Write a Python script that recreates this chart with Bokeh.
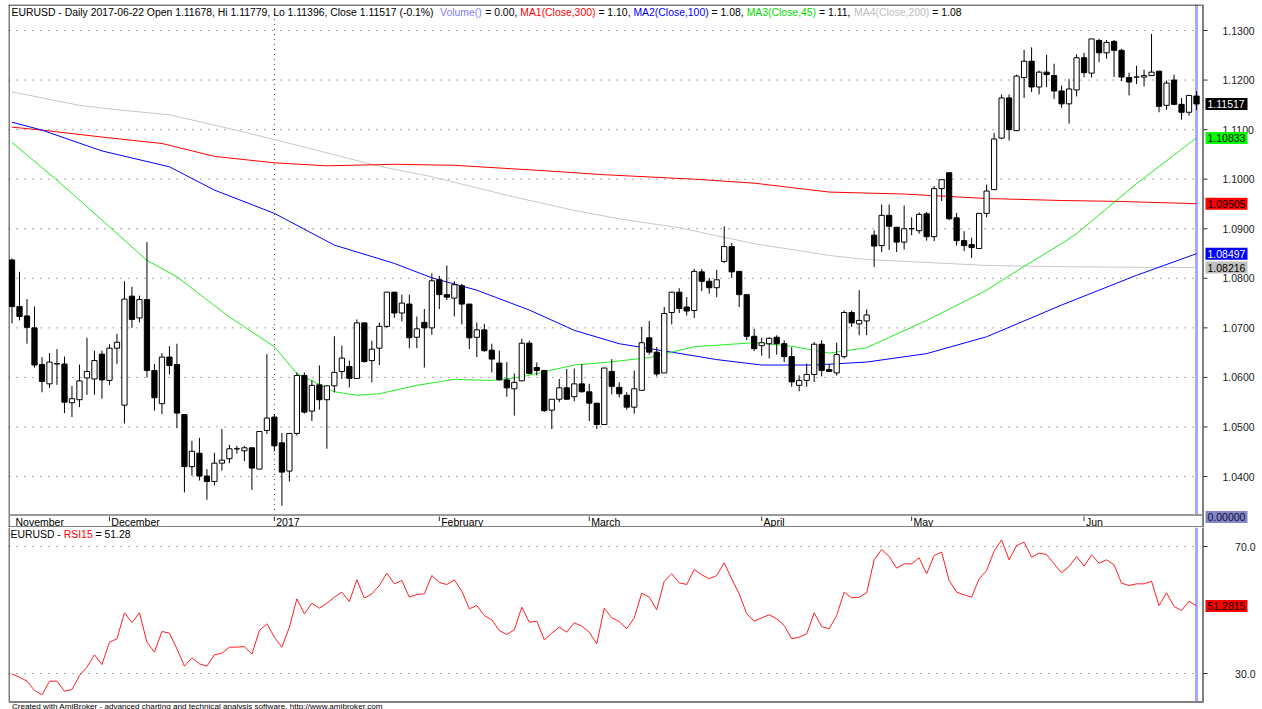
from bokeh.plotting import figure
from bokeh.models import Range1d, ColumnDataSource
from bokeh.layouts import column
from bokeh.core.properties import value
from bokeh.embed import file_html
from bokeh.resources import INLINE

# ---------------- data (EURUSD daily, 2016-11-14 .. 2017-06-22) ----------------
opens = [1.0837, 1.0743, 1.0724, 1.0700, 1.0626, 1.0587, 1.0627, 1.0627, 1.0549, 1.0555,
         1.0599, 1.0597, 1.0647, 1.0594, 1.0659, 1.0544, 1.0764, 1.0720, 1.0757, 1.0614,
         1.0547, 1.0641, 1.0626, 1.0525, 1.0420, 1.0447, 1.0401, 1.0390, 1.0427, 1.0436,
         1.0456, 1.0452, 1.0458, 1.0415, 1.0493, 1.0520, 1.0468, 1.0411, 1.0487, 1.0604,
         1.0532, 1.0585, 1.0555, 1.0583, 1.0612, 1.0622, 1.0598, 1.0710, 1.0634, 1.0659,
         1.0703, 1.0772, 1.0730, 1.0748, 1.0681, 1.0711, 1.0700, 1.0797, 1.0767, 1.0760,
         1.0785, 1.0748, 1.0681, 1.0696, 1.0655, 1.0629, 1.0595, 1.0577, 1.0593, 1.0669,
         1.0620, 1.0614, 1.0534, 1.0556, 1.0579, 1.0561, 1.0587, 1.0571, 1.0548, 1.0505,
         1.0612, 1.0580, 1.0564, 1.0540, 1.0574, 1.0680, 1.0651, 1.0609, 1.0731, 1.0772,
         1.0742, 1.0735, 1.0813, 1.0794, 1.0781, 1.0834, 1.0864, 1.0814, 1.0767, 1.0683,
         1.0664, 1.0668, 1.0681, 1.0668, 1.0642, 1.0584, 1.0594, 1.0606, 1.0667, 1.0616,
         1.0609, 1.0642, 1.0731, 1.0708, 1.0714, 1.0887, 1.0866, 1.0927, 1.0903, 1.0873,
         1.0900, 1.0896, 1.0930, 1.0884, 1.0981, 1.1013, 1.0922, 1.0876, 1.0868, 1.0860,
         1.0931, 1.0979, 1.1083, 1.1164, 1.1098, 1.1205, 1.1238, 1.1186, 1.1216, 1.1209,
         1.1178, 1.1152, 1.1180, 1.1245, 1.1214, 1.1280, 1.1255, 1.1278, 1.1260, 1.1205,
         1.1206, 1.1206, 1.1209, 1.1218, 1.1149, 1.1200, 1.1151, 1.1135, 1.11678]
highs = [1.0840, 1.0813, 1.0758, 1.0743, 1.0641, 1.0649, 1.0657, 1.0642, 1.0583, 1.0626,
         1.0680, 1.0654, 1.0654, 1.0667, 1.0688, 1.0794, 1.0783, 1.0765, 1.0873, 1.0627,
         1.0649, 1.0663, 1.0668, 1.0525, 1.0472, 1.0478, 1.0415, 1.0448, 1.0496, 1.0464,
         1.0462, 1.0462, 1.0458, 1.0491, 1.0647, 1.0526, 1.0488, 1.0487, 1.0610, 1.0610,
         1.0594, 1.0624, 1.0583, 1.0683, 1.0664, 1.0634, 1.0717, 1.0711, 1.0674, 1.0711,
         1.0772, 1.0772, 1.0767, 1.0767, 1.0723, 1.0738, 1.0810, 1.0805, 1.0826, 1.0794,
         1.0789, 1.0748, 1.0711, 1.0708, 1.0668, 1.0654, 1.0631, 1.0608, 1.0678, 1.0674,
         1.0630, 1.0614, 1.0556, 1.0597, 1.0617, 1.0618, 1.0627, 1.0587, 1.0548, 1.0619,
         1.0637, 1.0590, 1.0570, 1.0614, 1.0702, 1.0714, 1.0661, 1.0742, 1.0772, 1.0780,
         1.0762, 1.0819, 1.0819, 1.0801, 1.0817, 1.0905, 1.0871, 1.0814, 1.0767, 1.0698,
         1.0680, 1.0681, 1.0685, 1.0675, 1.0661, 1.0604, 1.0628, 1.0671, 1.0675, 1.0627,
         1.0670, 1.0735, 1.0735, 1.0776, 1.0737, 1.0897, 1.0949, 1.0949, 1.0903, 1.0947,
         1.0923, 1.0933, 1.0934, 1.0986, 1.0999, 1.1013, 1.0932, 1.0895, 1.0882, 1.0931,
         1.0989, 1.1093, 1.1171, 1.1171, 1.1211, 1.1261, 1.1266, 1.1219, 1.1251, 1.1233,
         1.1189, 1.1202, 1.1252, 1.1255, 1.1283, 1.1283, 1.1281, 1.1281, 1.1263, 1.1215,
         1.1229, 1.1221, 1.1293, 1.1218, 1.1199, 1.1211, 1.1164, 1.1169, 1.11779]
lows = [1.0709, 1.0715, 1.0668, 1.0620, 1.0570, 1.0579, 1.0585, 1.0528, 1.0520, 1.0540,
        1.0565, 1.0565, 1.0557, 1.0585, 1.0627, 1.0507, 1.0700, 1.0711, 1.0600, 1.0533,
        1.0526, 1.0606, 1.0498, 1.0368, 1.0402, 1.0392, 1.0353, 1.0382, 1.0412, 1.0427,
        1.0446, 1.0431, 1.0373, 1.0415, 1.0486, 1.0451, 1.0341, 1.0390, 1.0483, 1.0527,
        1.0512, 1.0535, 1.0456, 1.0570, 1.0597, 1.0580, 1.0597, 1.0630, 1.0590, 1.0625,
        1.0700, 1.0720, 1.0713, 1.0659, 1.0659, 1.0620, 1.0686, 1.0738, 1.0756, 1.0723,
        1.0707, 1.0657, 1.0641, 1.0652, 1.0610, 1.0594, 1.0561, 1.0523, 1.0593, 1.0606,
        1.0604, 1.0530, 1.0496, 1.0550, 1.0555, 1.0552, 1.0570, 1.0512, 1.0496, 1.0505,
        1.0566, 1.0560, 1.0535, 1.0527, 1.0574, 1.0646, 1.0602, 1.0609, 1.0707, 1.0730,
        1.0725, 1.0720, 1.0774, 1.0769, 1.0762, 1.0831, 1.0801, 1.0742, 1.0675, 1.0653,
        1.0644, 1.0638, 1.0646, 1.0631, 1.0581, 1.0572, 1.0581, 1.0591, 1.0602, 1.0611,
        1.0604, 1.0638, 1.0702, 1.0685, 1.0685, 1.0823, 1.0853, 1.0857, 1.0853, 1.0858,
        1.0887, 1.0890, 1.0876, 1.0875, 1.0956, 1.0918, 1.0866, 1.0855, 1.0841, 1.0860,
        1.0923, 1.0979, 1.1081, 1.1078, 1.1098, 1.1164, 1.1176, 1.1171, 1.1186, 1.1162,
        1.1144, 1.1112, 1.1167, 1.1206, 1.1205, 1.1236, 1.1243, 1.1206, 1.1198, 1.1169,
        1.1192, 1.1187, 1.1209, 1.1135, 1.1140, 1.1149, 1.1120, 1.1128, 1.11396]
closes = [1.0743, 1.0723, 1.0701, 1.0625, 1.0592, 1.0631, 1.0628, 1.0550, 1.0557, 1.0593,
          1.0612, 1.0634, 1.0595, 1.0659, 1.0671, 1.0758, 1.0717, 1.0757, 1.0614, 1.0559,
          1.0641, 1.0624, 1.0528, 1.0420, 1.0451, 1.0401, 1.0390, 1.0427, 1.0433, 1.0456,
          1.0456, 1.0458, 1.0417, 1.0491, 1.0518, 1.0462, 1.0409, 1.0487, 1.0604, 1.0530,
          1.0584, 1.0555, 1.0583, 1.0610, 1.0639, 1.0598, 1.0710, 1.0632, 1.0657, 1.0703,
          1.0772, 1.0730, 1.0750, 1.0680, 1.0698, 1.0700, 1.0795, 1.0767, 1.0762, 1.0787,
          1.0748, 1.0680, 1.0696, 1.0654, 1.0637, 1.0595, 1.0579, 1.0590, 1.0669, 1.0608,
          1.0614, 1.0533, 1.0556, 1.0579, 1.0556, 1.0587, 1.0571, 1.0548, 1.0505, 1.0619,
          1.0582, 1.0567, 1.0540, 1.0577, 1.0670, 1.0651, 1.0607, 1.0729, 1.0772, 1.0739,
          1.0734, 1.0814, 1.0794, 1.0781, 1.0797, 1.0864, 1.0813, 1.0767, 1.0683, 1.0658,
          1.0670, 1.0679, 1.0668, 1.0642, 1.0591, 1.0594, 1.0606, 1.0667, 1.0614, 1.0612,
          1.0646, 1.0731, 1.0710, 1.0715, 1.0726, 1.0865, 1.0927, 1.0905, 1.0873, 1.0900,
          1.0900, 1.0929, 1.0884, 1.0981, 1.0999, 1.0920, 1.0876, 1.0866, 1.0862, 1.0931,
          1.0976, 1.1081, 1.1164, 1.1100, 1.1208, 1.1238, 1.1186, 1.1216, 1.1211, 1.1178,
          1.1152, 1.1182, 1.1245, 1.1215, 1.1283, 1.1255, 1.1276, 1.1260, 1.1206, 1.1196,
          1.1206, 1.1209, 1.1216, 1.1147, 1.1194, 1.1151, 1.1135, 1.1169, 1.11517]

rsi15 = [29.89, 28.84, 27.58, 24.64, 23.28, 27.58, 27.58, 24.43, 24.96, 29.37,
         31.99, 35.88, 32.83, 39.87, 40.92, 49.11, 46.06, 49.11, 39.87, 36.72,
         43.23, 42.70, 37.77, 32.31, 34.93, 33.04, 32.31, 35.88, 36.40, 38.29,
         38.29, 38.50, 36.09, 43.54, 45.64, 41.44, 38.29, 44.59, 53.52, 48.79,
         52.15, 50.58, 52.15, 54.04, 55.62, 52.68, 59.50, 53.73, 55.09, 57.72,
         61.60, 58.24, 59.29, 54.04, 54.88, 55.09, 60.87, 58.66, 58.03, 59.50,
         55.93, 50.37, 51.42, 48.27, 46.90, 43.54, 42.28, 43.75, 50.89, 46.17,
         46.48, 40.60, 42.70, 44.59, 43.02, 45.96, 44.91, 43.02, 39.34, 50.58,
         47.53, 46.38, 44.07, 47.53, 55.30, 54.04, 50.05, 59.08, 61.39, 58.56,
         58.03, 62.76, 61.08, 59.82, 60.87, 64.86, 59.82, 55.09, 48.79, 46.48,
         47.53, 48.48, 47.22, 45.12, 40.92, 41.44, 42.49, 49.11, 44.80, 44.07,
         48.27, 55.62, 53.83, 54.04, 55.41, 65.80, 69.06, 66.85, 63.18, 64.54,
         64.54, 66.43, 61.39, 67.17, 68.22, 59.29, 55.62, 54.78, 54.04, 59.82,
         62.44, 68.53, 72.10, 65.80, 70.32, 71.37, 66.64, 67.90, 67.48, 64.54,
         61.71, 63.70, 66.85, 63.81, 67.38, 64.75, 65.80, 64.23, 58.45, 57.72,
         58.24, 58.24, 59.08, 51.42, 55.41, 51.10, 49.84, 52.78, 51.28]
rsi_last_text = "51.2815"

# moving averages, read at sampled bars (bar index, value)
ma1_idx = [0, 4, 12, 20, 27, 35, 42, 51, 59, 70, 79, 91, 99, 109, 119, 130, 140, 148, 158]
ma1_val = [1.1105, 1.1099, 1.1085, 1.1072, 1.1046, 1.1033, 1.1027, 1.1030, 1.1028, 1.1018,
           1.1009, 1.1000, 1.0992, 1.0974, 1.0970, 1.0961, 1.0957, 1.0955, 1.09505]
ma2_idx = [0, 4, 12, 21, 27, 35, 43, 51, 56, 62, 69, 75, 81, 88, 94, 100, 107, 114, 122, 130, 140, 150, 158]
ma2_val = [1.1115, 1.1099, 1.1057, 1.1025, 1.0978, 1.0931, 1.0867, 1.0830, 1.0801, 1.0776,
           1.0736, 1.0695, 1.0668, 1.0651, 1.0636, 1.0625, 1.0625, 1.0631, 1.0648, 1.0682,
           1.0746, 1.0806, 1.08497]
ma3_idx = [0, 6, 13, 18, 22, 29, 35, 38, 43, 46, 49, 54, 59, 64, 68, 75, 79, 85, 91, 99,
           104, 109, 114, 122, 130, 135, 140, 142, 150, 158]
ma3_val = [1.1074, 1.0998, 1.0904, 1.0836, 1.0803, 1.0722, 1.0662, 1.0608, 1.0571, 1.0564,
           1.0567, 1.0584, 1.0596, 1.0594, 1.0601, 1.0625, 1.0630, 1.0640, 1.0662, 1.0670,
           1.0663, 1.0649, 1.0660, 1.0715, 1.0776, 1.0824, 1.0870, 1.0890, 1.0991, 1.10833]
ma4_idx = [0, 9, 14, 21, 29, 35, 41, 49, 56, 67, 75, 81, 89, 99, 109, 114, 130, 142, 158]
ma4_val = [1.1176, 1.1149, 1.1140, 1.1130, 1.1102, 1.1080, 1.1057, 1.1026, 1.1005, 1.0964,
           1.0937, 1.0920, 1.0902, 1.0870, 1.0846, 1.0838, 1.0826, 1.0823, 1.08216]

month_idx = [13, 35, 57, 77, 100, 120, 143]
month_lbl = ["December", "2017", "February", "March", "April", "May", "Jun"]
first_lbl = "November"
price_ticks = [1.04, 1.05, 1.06, 1.07, 1.08, 1.09, 1.10, 1.11, 1.12, 1.13]
rsi_ticks = [30, 70]

# ---------------- text metrics (Arial / Liberation Sans advance widths) ----------------
FONT = "Liberation Sans"
_W = {' ': 278, '!': 278, '%': 889, '(': 333, ')': 333, ',': 278, '-': 333, '.': 278, '/': 278,
      ':': 278, '=': 584, 'A': 667, 'B': 667, 'C': 722, 'D': 722, 'E': 667, 'H': 722, 'I': 278,
      'L': 556, 'M': 833, 'O': 778, 'R': 722, 'S': 667, 'U': 722, 'V': 667,
      'a': 556, 'b': 556, 'c': 500, 'd': 556, 'e': 556, 'f': 278, 'g': 556, 'h': 556, 'i': 222,
      'k': 500, 'l': 222, 'm': 833, 'n': 556, 'o': 556, 'p': 556, 'r': 333, 's': 500, 't': 278,
      'u': 556, 'v': 500, 'w': 722, 'y': 500, 'z': 500}
def tw(s):
    return sum(_W.get(ch, 556) for ch in s) / 1000.0

# ---------------- geometry helpers (screen px -> data) ----------------
X0S, DX = 11.5, 7.497        # centre of first bar, bar spacing (px)
def xs(sx):
    return (sx - X0S) / DX
def py(sy):
    return 1.13 - (sy - 30) / 4956.0
def ry(sy):
    return 70 - (sy - 546) / 3.175

n = len(closes)
idx = list(range(n))
XL, XR, XG = 8, 1202.5, 1200   # chart left, right border, grid end (px)

# ---------------- price panel ----------------
p = figure(frame_width=1254, frame_height=523,
           x_range=Range1d(xs(8), xs(1262)), y_range=Range1d(py(527), py(4)),
           x_axis_location=None, y_axis_location=None,
           output_backend="svg", toolbar_location=None,
           min_border_left=8, min_border_top=4, min_border_bottom=0, min_border_right=0)
p.outline_line_color = None
p.grid.visible = False

ybot = py(514.5)
# dotted price grid
p.segment(x0=[xs(XL)] * len(price_ticks), y0=price_ticks, x1=[xs(XG)] * len(price_ticks),
          y1=price_ticks, line_color="#505050", line_width=1, line_dash="1 7")
# selection line and year separator
p.segment(x0=[n - 1], y0=[ybot], x1=[n - 1], y1=[py(4)], line_color="#a8a8ff", line_width=3)
p.segment(x0=[35], y0=[ybot], x1=[35], y1=[py(4)], line_color="#404040", line_width=1, line_dash="1 4")

# moving averages
p.line(ma4_idx, ma4_val, line_color="#c8c8c8", line_width=1)
p.line(ma1_idx, ma1_val, line_color="#ff0000", line_width=1)
p.line(ma2_idx, ma2_val, line_color="#0000ff", line_width=1)
p.line(ma3_idx, ma3_val, line_color="#22ee22", line_width=1)

# candles
csrc = ColumnDataSource(dict(
    x=idx, o=opens, h=highs, l=lows, c=closes,
    top=[max(a, b) for a, b in zip(opens, closes)],
    bot=[min(a, b) for a, b in zip(opens, closes)],
    fill=["white" if c >= o else "black" for o, c in zip(opens, closes)]))
p.segment(x0="x", y0="l", x1="x", y1="h", source=csrc, line_color="black", line_width=1)
p.vbar(x="x", width=0.7, top="top", bottom="bot", source=csrc,
       fill_color="fill", line_color="black", line_width=1)

# frame borders
p.segment(x0=[xs(8.5)], y0=[py(4)], x1=[xs(8.5)], y1=[py(527)], line_color="black", line_width=1)
p.segment(x0=[xs(8)], y0=[py(4.5)], x1=[xs(XR)], y1=[py(4.5)], line_color="black", line_width=1)
p.segment(x0=[xs(8)], y0=[ybot], x1=[xs(XR)], y1=[ybot], line_color="#999999", line_width=2)
p.segment(x0=[xs(8)], y0=[py(527)], x1=[xs(XR)], y1=[py(527)], line_color="black", line_width=2)
p.segment(x0=[xs(XR)], y0=[py(4)], x1=[xs(XR)], y1=[py(527)], line_color="#808080", line_width=2)

# right price scale: ticks and labels
p.segment(x0=[xs(1203)] * len(price_ticks), y0=price_ticks, x1=[xs(1207)] * len(price_ticks),
          y1=price_ticks, line_color="#303030", line_width=1)
p.text(x=[xs(1222)] * len(price_ticks), y=price_ticks, text=[f"{t:.4f}" for t in price_ticks],
       text_font=value(FONT), text_font_size=value("10.5px"), text_color="#202020",
       text_baseline="middle", text_align="left")

# header text (multi-coloured, laid out with font metrics)
last = n - 1
head = [
    (f"EURUSD - Daily 2017-06-22 Open {opens[last]:.5f}, Hi {highs[last]:.5f}, "
     f"Lo {lows[last]:.5f}, Close {closes[last]:.5f} (-0.1%)", "black"),
    ("Volume()", "#8080ff"), ("= 0.00,", "black"),
    ("MA1(Close,300)", "#ff0000"), (f"= {ma1_val[-1]:.2f},", "black"),
    ("MA2(Close,100)", "#0000ff"), (f"= {ma2_val[-1]:.2f},", "black"),
    ("MA3(Close,45)", "#00dd00"), (f"= {ma3_val[-1]:.2f},", "black"),
    ("MA4(Close,200)", "#c0c0c0"), (f"= {ma4_val[-1]:.2f}", "black"),
]
full = " ".join(h[0] for h in head)
HFS = (961 - 11) / tw(full)
hx, cur = [], 11.0
for t, _ in head:
    hx.append(cur)
    cur += tw(t + " ") * HFS
hsrc = ColumnDataSource(dict(x=[xs(v) for v in hx], y=[py(11.5)] * len(head),
                             t=[h[0] for h in head], c=[h[1] for h in head]))
p.text(x="x", y="y", text="t", text_color="c", source=hsrc, text_font=value(FONT),
       text_font_size=value(f"{HFS:.2f}px"), text_baseline="middle", text_align="left")

# date strip
p.segment(x0=month_idx, y0=[py(516)] * len(month_idx), x1=month_idx, y1=[py(520.5)] * len(month_idx),
          line_color="#303030", line_width=1)
dsrc = ColumnDataSource(dict(x=[xs(15)] + [m + 0.25 for m in month_idx],
                             y=[py(521.5)] * (len(month_idx) + 1),
                             t=[first_lbl] + month_lbl))
p.text(x="x", y="y", text="t", source=dsrc, text_font=value(FONT), text_font_size=value("10.5px"),
       text_baseline="middle", text_align="left", text_color="black")

# last value badges
def badges(fig, ys, texts, bgs, fgs):
    m = len(ys)
    fig.rect(x=[xs(1226)] * m, y=ys, width=42, height=12, width_units="screen",
             height_units="screen", fill_color=bgs, line_color=None)
    fig.text(x=[xs(1207)] * m, y=ys, text=texts, text_color=fgs, text_font=value(FONT),
             text_font_size=value("10.5px"), text_baseline="middle", text_align="left")

badges(p,
       [closes[-1], ma3_val[-1], ma1_val[-1], ma2_val[-1], ma4_val[-1], py(516.5)],
       [f"{closes[-1]:.5f}", f"{ma3_val[-1]:.5f}", f"{ma1_val[-1]:.5f}", f"{ma2_val[-1]:.5f}",
        f"{ma4_val[-1]:.5f}", "0.00000"],
       ["black", "#00ff00", "#ff0000", "#0000ff", "#c0c0c0", "#8484c8"],
       ["white", "black", "black", "white", "black", "#101030"])

# ---------------- RSI panel ----------------
r = figure(frame_width=1254, frame_height=182,
           x_range=p.x_range, y_range=Range1d(ry(709), ry(527)),
           x_axis_location=None, y_axis_location=None,
           output_backend="svg", toolbar_location=None,
           min_border_left=8, min_border_top=0, min_border_bottom=0, min_border_right=0)
r.outline_line_color = None
r.grid.visible = False

r.segment(x0=[xs(XL)] * 2, y0=rsi_ticks, x1=[xs(XG)] * 2, y1=rsi_ticks,
          line_color="#505050", line_width=1, line_dash="1 7")
r.segment(x0=[n - 1], y0=[ry(701)], x1=[n - 1], y1=[ry(527)], line_color="#a8a8ff", line_width=3)
r.line(idx, rsi15, line_color="#ff2020", line_width=1)

# borders
r.segment(x0=[xs(8.5)], y0=[ry(527)], x1=[xs(8.5)], y1=[ry(701)], line_color="black", line_width=1)
r.segment(x0=[xs(XR)], y0=[ry(527)], x1=[xs(XR)], y1=[ry(702)], line_color="#808080", line_width=2)
r.segment(x0=[xs(8)], y0=[ry(701.5)], x1=[xs(XR)], y1=[ry(701.5)], line_color="#808080", line_width=2)

# RSI scale
r.segment(x0=[xs(1203)] * 2, y0=rsi_ticks, x1=[xs(1207)] * 2, y1=rsi_ticks,
          line_color="#303030", line_width=1)
r.text(x=[xs(1255)] * 2, y=rsi_ticks, text=[f"{t:.1f}" for t in rsi_ticks],
       text_font=value(FONT), text_font_size=value("10.5px"), text_color="#202020",
       text_baseline="middle", text_align="right")

rhead = [("EURUSD -", "black"), ("RSI15", "#ff0000"), (f"= {rsi15[-1]:.2f}", "black")]
rx, cur = [], 10.0
for t, _ in rhead:
    rx.append(cur)
    cur += tw(t + " ") * HFS
rsrc = ColumnDataSource(dict(x=[xs(v) for v in rx], y=[ry(534)] * 3,
                             t=[h[0] for h in rhead], c=[h[1] for h in rhead]))
r.text(x="x", y="y", text="t", text_color="c", source=rsrc, text_font=value(FONT),
       text_font_size=value(f"{HFS:.2f}px"), text_baseline="middle", text_align="left")
badges(r, [rsi15[-1]], [rsi_last_text], ["#ff0000"], ["black"])

footer = "Created with AmiBroker - advanced charting and technical analysis software. http://www.amibroker.com"
FFS = (384 - 11.5) / tw(footer)
r.text(x=[xs(11.5)], y=[ry(705.5)], text=[footer], text_font=value(FONT),
       text_font_size=value(f"{FFS:.2f}px"), text_color="black",
       text_baseline="middle", text_align="left")

layout = column(p, r, spacing=0)
open("out.html", "w").write(file_html(layout, INLINE))
